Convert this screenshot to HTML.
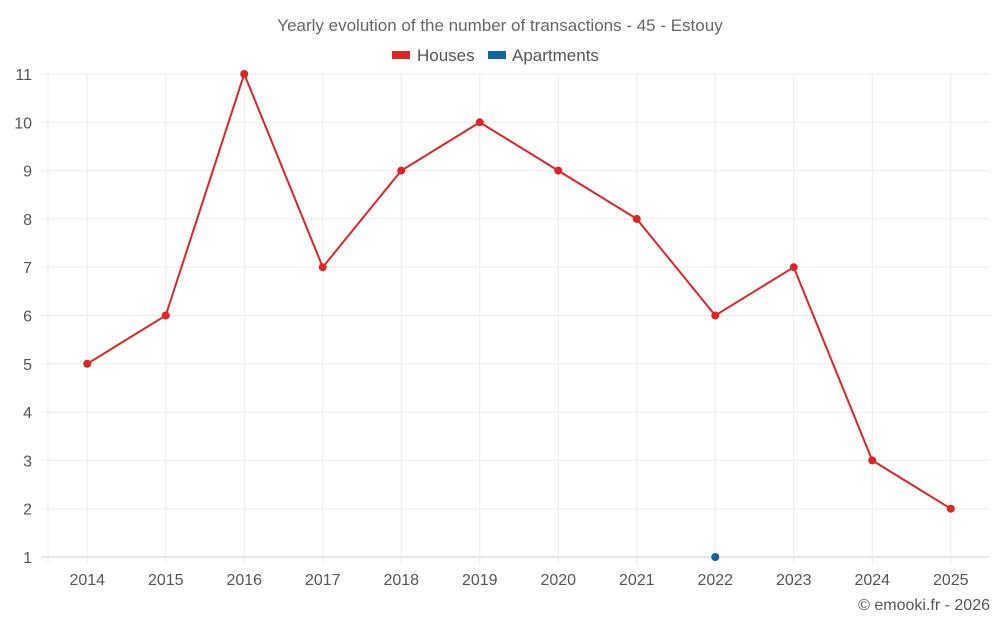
<!DOCTYPE html>
<html><head><meta charset="utf-8"><style>
body{margin:0;background:#fff;font-family:"Liberation Sans",sans-serif}
svg text{font-family:"Liberation Sans",sans-serif}
</style></head><body>
<svg id="c" width="1000" height="625">
<text x="500" y="31" text-anchor="middle" font-size="17" fill="#666">Yearly evolution of the number of transactions - 45 - Estouy</text>
<g>
<rect x="392" y="51" width="18" height="8" fill="#dc2626"/>
<text x="417" y="61" font-size="17" fill="#555">Houses</text>
<rect x="488" y="51" width="18" height="8" fill="#0a65a0"/>
<text x="512" y="61" font-size="17" fill="#555">Apartments</text>
</g>
<g id="grid"></g><g id="axes"></g><g id="marks"></g>
<text x="990" y="610" text-anchor="end" font-size="16" fill="#555">© emooki.fr - 2026</text>
</svg>
<script>
const categories=["2014","2015","2016","2017","2018","2019","2020","2021","2022","2023","2024","2025"];
const houses=[5,6,11,7,9,10,9,8,6,7,3,2];
const apartments=[null,null,null,null,null,null,null,null,1,null,null,null];
const yTicks=[1,2,3,4,5,6,7,8,9,10,11];
const L=48,R=990,T=74,B=557,yMin=1,yMax=11;
const bw=(R-L)/categories.length;
const xs=i=>L+bw*(i+0.5);
const ys=v=>B-(v-yMin)/(yMax-yMin)*(B-T);
const NS="http://www.w3.org/2000/svg";
function mk(p,tag,a){const e=document.createElementNS(NS,tag);for(const k in a)e.setAttribute(k,a[k]);document.getElementById(p).appendChild(e);return e;}
yTicks.forEach(v=>{
 const g=mk('grid','line',{x1:L-7,x2:R,y1:ys(v),y2:ys(v),stroke:v===yMin?'#ccc':'#ebebeb'});
 
 
 const t=mk('axes','text',{x:32,y:ys(v)+6,'text-anchor':'end','font-size':16,fill:'#555'});
 t.textContent=v;
 
 
});
const ax=mk('grid','line',{x1:L,x2:L,y1:T,y2:B+7,stroke:'#ebebeb'});


categories.forEach((c,i)=>{
 const g=mk('grid','line',{x1:xs(i),x2:xs(i),y1:T,y2:B+7,stroke:'#ebebeb'});
 
 
 const t=mk('axes','text',{x:xs(i),y:585,'text-anchor':'middle','font-size':16,fill:'#555'});
 t.textContent=c;
 
 
});
const pts=houses.map((v,i)=>v==null?null:xs(i)+','+ys(v)).filter(Boolean).join(' ');
const pl=mk('marks','polyline',{points:pts,fill:'none',stroke:'#dc2626','stroke-width':2});


houses.forEach((v,i)=>{if(v==null)return;
 const p=mk('marks','circle',{cx:xs(i),cy:ys(v),r:4,fill:'#dc2626'});
 
 
});
apartments.forEach((v,i)=>{if(v==null)return;
 const p=mk('marks','circle',{cx:xs(i),cy:ys(v),r:4,fill:'#0a65a0'});
 
 
});
</script>
</body></html>
